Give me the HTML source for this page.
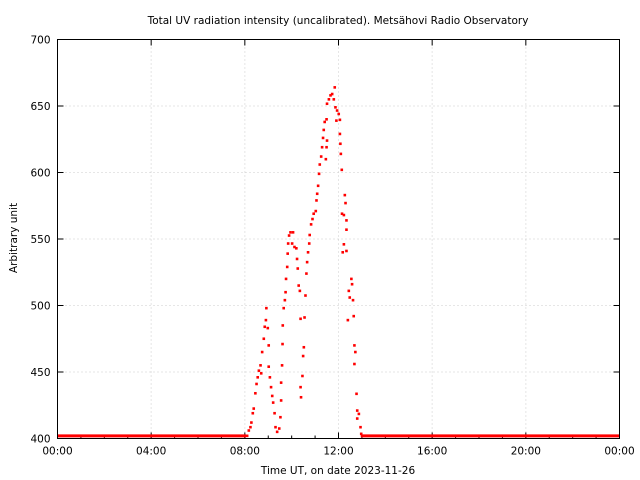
<!DOCTYPE html>
<html><head><meta charset="utf-8"><style>
body{margin:0;background:#fff;}
svg{display:block;font-family:"DejaVu Sans","Liberation Sans",sans-serif;}
</style></head><body>
<svg id="chart" width="640" height="480" viewBox="0 0 640 480">
<text x="338" y="24" font-size="10.5" text-anchor="middle">Total UV radiation intensity (uncalibrated). Metsähovi Radio Observatory</text>
<text transform="translate(17,238) rotate(-90)" font-size="10.5" text-anchor="middle">Arbitrary unit</text>
<text x="338" y="474" font-size="10.5" text-anchor="middle">Time UT, on date 2023-11-26</text>
<g id="grid"></g>
<g id="ticks"></g>
<g id="marks"></g>
<rect x="57.5" y="39.5" width="562" height="399" fill="none" stroke="#000" stroke-width="1"/>
</svg>
<script>
const yTicks=[400,450,500,550,600,650,700];
const xTickHours=[0,4,8,12,16,20,24];
const xTickLabels=["00:00","04:00","08:00","12:00","16:00","20:00","00:00"];
const baselineValue=402;
const baselineSegments=[[0,8.05],[12.95,24]];
const times=[8.10,8.17,8.24,8.28,8.34,8.38,8.45,8.50,8.55,8.60,8.67,8.70,8.74,8.81,8.85,8.90,8.92,8.98,9.02,9.02,9.07,9.12,9.17,9.21,9.27,9.31,9.38,9.47,9.52,9.55,9.55,9.59,9.61,9.62,9.66,9.71,9.74,9.76,9.81,9.83,9.85,9.89,9.95,10.06,10.02,10.12,10.20,10.23,10.26,10.30,10.35,10.38,10.38,10.40,10.46,10.49,10.52,10.55,10.59,10.63,10.66,10.70,10.75,10.77,10.83,10.89,10.94,11.03,11.06,11.09,11.13,11.17,11.20,11.26,11.30,11.34,11.37,11.41,11.49,11.46,11.49,11.51,11.51,11.59,11.66,11.73,11.80,11.84,11.87,11.94,12.01,11.91,12.06,12.06,12.08,12.10,12.14,12.15,12.23,12.27,12.30,12.34,12.34,12.23,12.18,12.34,12.44,12.48,12.55,12.58,12.62,12.40,12.65,12.68,12.72,12.68,12.77,12.80,12.87,12.80,12.94,12.97];
const values=[402,406,408.5,412,419,422.5,434,441,446,451,455,449,465,475,484,489,498,483,470,454,446,438.6,432,427,419,408.5,405,407.5,416,428.6,442,455,471,485,498,504,510,520,529,539,546.6,552.6,555,555,546.6,544,543,535,527.8,515,511,490,438.6,431,447,462,468.6,491,507.5,524,532.6,540,546.6,553,561,565,569,571,579,584,590,599,606,612,619,626,632,638,640,610,619,624,651.7,655,658,659,655,664,649,646.6,644,639,639.6,629,621.6,614,602,569,568,583,577,564,557,546,540,541,511,506,520,516,504,489,492,470,465,456,433.6,421,418.5,415,408.5,403.5];
const L=57.5,R=619.5,T=39.5,B=438.5;
function xs(h){return L+(R-L)*h/24;}
function ys(v){return B-(B-T)*(v-400)/300;}
const NS="http://www.w3.org/2000/svg";
function mk(t,a,p){const e=document.createElementNS(NS,t);for(const k in a)e.setAttribute(k,a[k]);p.appendChild(e);return e;}
const grid=document.getElementById('grid'),ticks=document.getElementById('ticks'),marks=document.getElementById('marks');
yTicks.forEach(v=>{
  if(v>400&&v<700){const g=mk('line',{x1:L,x2:R,y1:ys(v),y2:ys(v),stroke:'#ccc','stroke-dasharray':'1,3'},grid);
  
  }
  mk('line',{x1:L,x2:L+6,y1:ys(v),y2:ys(v),stroke:'#000'},ticks);
  mk('line',{x1:R,x2:R-6,y1:ys(v),y2:ys(v),stroke:'#000'},ticks);
  const t=mk('text',{x:L-7,y:ys(v)+4,'font-size':'10.5','text-anchor':'end'},ticks);t.textContent=v;
  
  
});
for(let h=0;h<=24;h++){mk('line',{x1:xs(h),x2:xs(h),y1:B,y2:B-3,stroke:'#000'},ticks);}
xTickHours.forEach((h,i)=>{
  if(h>0&&h<24){const g=mk('line',{x1:xs(h),x2:xs(h),y1:T,y2:B,stroke:'#ccc','stroke-dasharray':'1,3'},grid);
  
  }
  mk('line',{x1:xs(h),x2:xs(h),y1:B,y2:B-6,stroke:'#000'},ticks);
  mk('line',{x1:xs(h),x2:xs(h),y1:T,y2:T+6,stroke:'#000'},ticks);
  const t=mk('text',{x:xs(h),y:B+16,'font-size':'10.5','text-anchor':'middle'},ticks);t.textContent=xTickLabels[i];
  
  
});
baselineSegments.forEach(s=>{
  const l=mk('line',{x1:xs(s[0]),x2:xs(s[1]),y1:ys(baselineValue),y2:ys(baselineValue),stroke:'#f00','stroke-width':3},marks);
  
  
});
times.forEach((h,i)=>{
  const c=mk('rect',{x:xs(h)-1.3,y:ys(values[i])-1.3,width:2.6,height:2.6,fill:'#f00'},marks);
  
  
});
</script>
</body></html>
